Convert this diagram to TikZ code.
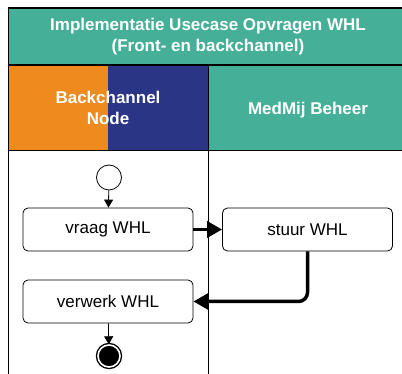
\documentclass[tikz,border=0pt]{standalone}
\usepackage{fontspec}
\setmainfont{Liberation Sans}
\usetikzlibrary{arrows.meta}

\definecolor{medmijgroen}{RGB}{69,175,151}
\definecolor{nodeoranje}{RGB}{238,139,31}
\definecolor{nodeblauw}{RGB}{42,53,134}

\tikzset{
  kop/.style={text=white, align=center, inner sep=0pt, font=\bfseries\fontsize{17}{21}\selectfont},
  actie/.style={draw, rounded corners=5pt, line width=0.8pt, minimum width=170pt,
    minimum height=43pt, inner sep=0pt, font=\fontsize{17}{20}\selectfont},
  startpunt/.style={draw, circle, line width=0.8pt, minimum size=25pt, inner sep=0pt},
  eindpunt/.style={circle, fill=black, draw=black, double=white, double distance=1.6pt,
    line width=1.4pt, minimum size=22pt, inner sep=0pt},
  pijl/.style={-{Triangle[length=8pt, width=9pt]}, line width=0.8pt},
  dikkepijl/.style={-{Triangle[length=15pt, width=16pt]}, line width=3.5pt, rounded corners=9pt},
}

\begin{document}
\begin{tikzpicture}[x=1pt, y=-1pt]
  \useasboundingbox (0,0) rectangle (402,374);
  \clip (0,0) rectangle (402,374);
  \def\links{8.5}
  \def\rechts{410}
  \def\baan{208}
  \def\titelonder{65}
  \def\kopjeonder{151}

  % titelbalk en kopjes
  \fill[medmijgroen] (\links, 8) rectangle (\rechts, \titelonder) ;
  \fill[nodeoranje] (\links, \titelonder) rectangle (108, \kopjeonder) ;
  \fill[nodeblauw] (108, \titelonder) rectangle (\baan, \kopjeonder) ;
  \fill[medmijgroen] (\baan, \titelonder) rectangle (\rechts, \kopjeonder) ;
  \draw[line width=1.2pt] (\links, 8) rectangle (\rechts, 390) ;
  \draw[line width=1.2pt] (\links, \titelonder) -- (\rechts, \titelonder) ;
  \draw[line width=1pt] (\links, \kopjeonder) -- (\rechts, \kopjeonder) ;
  \draw[line width=1pt] (\baan, \titelonder) -- (\baan, 390) ;

  \node[kop] (titel) at (208, 37) {Implementatie Usecase Opvragen WHL\\(Front- en backchannel)};
  \node[kop] (backchannel) at (108, 108) {Backchannel\\Node};
  \node[kop] (beheer) at (308, 110) {MedMij Beheer};

  % activiteiten
  \node[startpunt] (start) at (109, 177.5) {};
  \node[actie] (vraag) at (108, 229.5) {vraag WHL};
  \node[actie] (stuur) at (307.5, 229.5) {stuur WHL};
  \node[actie] (verwerk) at (108, 301.5) {verwerk WHL};
  \node[eindpunt] (eind) at (109, 356) {};

  \draw[pijl] (start) -- (vraag) ;
  \draw[dikkepijl] (vraag) -- (stuur) ;
  \draw[dikkepijl] (stuur.south) |- (verwerk.east) ;
  \draw[pijl] (verwerk) -- (eind) ;
\end{tikzpicture}
\end{document}
